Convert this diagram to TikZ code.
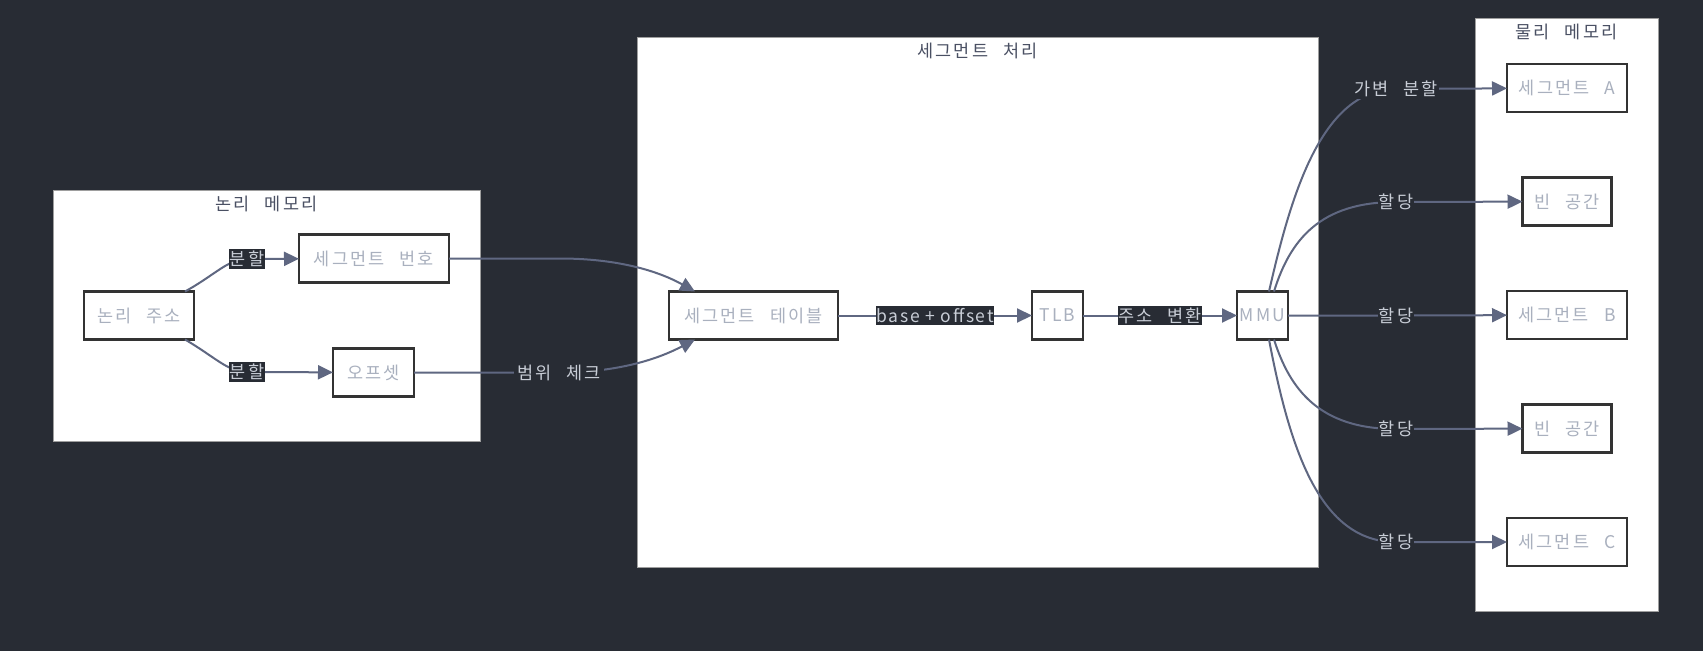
\documentclass[tikz,border=0pt]{standalone}
\usepackage{fontspec}
\newfontfamily\krfont{Noto Sans CJK KR}[LetterSpace=12, WordSpace=2.5]
\newfontfamily\krtight{Noto Sans CJK KR}[LetterSpace=10]
\usetikzlibrary{positioning,arrows.meta,calc}

\definecolor{pagebg}{HTML}{282C34}
\definecolor{edgecol}{HTML}{5F6781}
\definecolor{nodeline}{HTML}{333333}
\definecolor{nodetext}{HTML}{A9B0BE}
\definecolor{clline}{HTML}{9E9E9E}
\definecolor{cltext}{HTML}{4A5063}
\definecolor{labtext}{HTML}{C8CDD6}

\begin{document}
\begin{tikzpicture}[x=1pt, y=1pt,
    node distance=65.5pt,
    box/.style={draw=nodeline, line width=2.5pt, fill=white, rectangle, minimum height=48pt, inner sep=2pt, outer sep=0pt, text=nodetext, font=\krfont\fontsize{17.5pt}{20pt}\selectfont},
    cluster/.style={draw=clline, line width=1pt, fill=white, rectangle, inner sep=0pt, outer sep=0pt},
    cltitle/.style={text=cltext, inner sep=0pt, font=\krfont\fontsize{17.5pt}{20pt}\selectfont},
    elabin/.style={fill=pagebg, text=labtext, inner xsep=0.5pt, inner ysep=2pt, font=\krfont\fontsize{17.5pt}{20pt}\selectfont},
    elab/.style={fill=pagebg, text=labtext, inner xsep=1pt, inner ysep=2pt, font=\krfont\fontsize{17.5pt}{20pt}\selectfont},
    arr/.style={-{Triangle[length=15pt, width=14pt]}, line width=2pt, draw=edgecol},
]
% Page
\fill[pagebg] (0,0) rectangle (1703,-651);
\useasboundingbox (0,0) rectangle (1703,-651);

% Clusters
\node[cluster, minimum width=427pt, minimum height=251pt] (logic) at (266.5,-315.5) {};
\node[cltitle] (logicT) at ([yshift=-13.5pt]logic.north) {논리 메모리};
\node[cluster, minimum width=681pt, minimum height=530pt] (proc) at (977.5,-302) {};
\node[cltitle] (procT) at ([yshift=-13.5pt]proc.north) {세그먼트 처리};
\node[cluster, minimum width=183pt, minimum height=593pt] (phys) at (1566.5,-314.5) {};
\node[cltitle] (physT) at ([yshift=-13.5pt]phys.north) {물리 메모리};

% Logical memory
\node[box, minimum width=110pt] (addr) at (139,-315.5) {논리 주소};
\node[box, minimum width=150pt] (segno) at (374,-258.5) {세그먼트 번호};
\node[box, minimum width=81pt] (offs) at (373.5,-372.5) {오프셋};

% Segment processing
\node[box, minimum width=169pt] (segtab) at (753.5,-315.5) {세그먼트 테이블};
\node[box, minimum width=51pt, right=194pt of segtab] (tlb) {TLB};
\node[box, minimum width=51pt, right=154pt of tlb] (mmu) {MMU};

% Physical memory
\node[box, minimum width=120pt] (segA) at (1567,-88) {세그먼트 A};
\node[box, minimum width=89pt, below=of segA] (free1) {빈 공간};
\node[box, minimum width=120pt, below=of free1] (segB) {세그먼트 B};
\node[box, minimum width=89pt, below=of segB] (free2) {빈 공간};
\node[box, minimum width=120pt, below=of free2] (segC) {세그먼트 C};

% Label points
\coordinate (pSplitA) at (247,-259);
\coordinate (pSplitB) at (247,-372);
\coordinate (pRange) at (559,-372.5);
\coordinate (pVar) at (1396,-89);
\coordinate (pAlloc1) at (1396,-202);
\coordinate (pAlloc2) at (1396,-315.5);
\coordinate (pAlloc3) at (1396,-429);
\coordinate (pAlloc4) at (1396,-542);

% Arrows
\draw[arr] ([xshift=-9pt]addr.north east) .. controls (215,-275) and (228,-259) .. (pSplitA) -- (segno);
\draw[arr] ([xshift=-9pt]addr.south east) .. controls (215,-357) and (228,-372) .. (pSplitB) -- (offs);
\draw[arr] (segno.east) -- (560,-258.5) .. controls (620,-258.5) and (660,-272) .. ([xshift=-58.5pt]segtab.north);
\draw[arr] (offs) -- (pRange) .. controls (620,-372.5) and (660,-358) .. ([xshift=-58.5pt]segtab.south);
\draw[arr] (segtab) -- (tlb);
\draw[arr] (tlb) -- (mmu);
\draw[arr] ([xshift=6.5pt]mmu.north) .. controls (1290,-200) and (1320,-89) .. (pVar) -- (segA);
\draw[arr] ([xshift=11.5pt]mmu.north) .. controls (1290,-240) and (1320,-202) .. (pAlloc1) -- (free1);
\draw[arr] (mmu) -- (pAlloc2) -- (segB);
\draw[arr] ([xshift=11.5pt]mmu.south) .. controls (1290,-390) and (1320,-429) .. (pAlloc3) -- (free2);
\draw[arr] ([xshift=6.5pt]mmu.south) .. controls (1290,-450) and (1320,-542) .. (pAlloc4) -- (segC);

% Edge labels
\node[elabin] (lSplitA) at (pSplitA) {분할};
\node[elabin] (lSplitB) at (pSplitB) {분할};
\node[elab, inner xsep=3pt] (lRange) at (pRange) {범위 체크};
\node[elabin, font=\krtight\fontsize{17.5pt}{20pt}\selectfont] (lBase) at ($(segtab.east)!0.5!(tlb.west)$) {base + offset};
\node[elabin] (lTrans) at ($(tlb.east)!0.5!(mmu.west)$) {주소 변환};
\node[elab] (lVar) at (pVar) {가변 분할};
\foreach \i in {1,...,4}
  \node[elab] (lAlloc\i) at (pAlloc\i) {할당};
\end{tikzpicture}
\end{document}
